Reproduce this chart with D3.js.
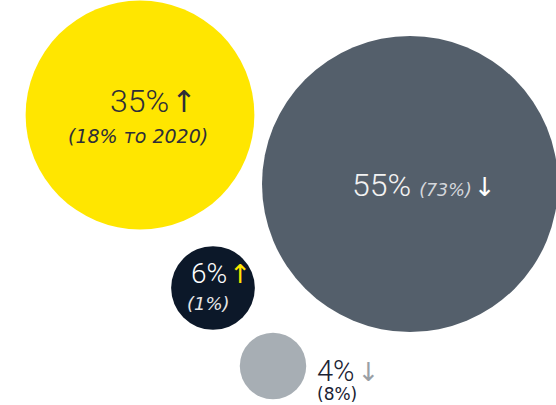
<!DOCTYPE html>
<html><head><meta charset="utf-8">
<script src="https://cdn.jsdelivr.net/npm/d3@7"></script>
<style>
html,body{margin:0;padding:0;background:#fff;}
svg{display:block;}
.num{font-family:Roboto,"Noto Sans",sans-serif;font-weight:300;}
.sub{font-family:"DejaVu Sans",sans-serif;}
.arr{font-family:"DejaVu Sans",sans-serif;}
</style></head>
<body>
<svg id="c" width="556" height="405"></svg>
<script>
// data
const categories = ["A", "B", "C", "D"];
const values = [35, 55, 6, 4];
const valueLabels = ["35%", "55%", "6%", "4%"];
const priorLabels = ["(18% то 2020)", "(73%)", "(1%)", "(8%)"];
const trend = ["up", "down", "up", "down"];

// layout (positions / styles, kept apart from the data)
const layout = [
  {cx:140, cy:115, fill:"#FFE600", main:"#2E2E38", sub:"#2E2E38", arrow:"#2E2E38", inline:false,
   l1:{x:110, y:112, size:32, asize:30, adx:2}, l2:{x:68, y:143, size:19, italic:true}},
  {cx:410, cy:184, fill:"#545F6B", main:"#F2F2F2", sub:"#D4D7DB", arrow:"#FFFFFF", inline:true,
   l1:{x:352, y:196, size:32, asize:26, adx:2}, l2:{size:17.5, italic:true, dx:8}},
  {cx:213, cy:288, fill:"#0C1829", main:"#FFFFFF", sub:"#E6E6E6", arrow:"#FFE600", inline:false,
   l1:{x:191, y:283, size:28, asize:26, adx:2}, l2:{x:187, y:310, size:18, italic:true}},
  {cx:273, cy:366, fill:"#A7AEB4", main:"#1A2233", sub:"#1A2233", arrow:"#9A9FA5", inline:false,
   l1:{x:317, y:381, size:29, asize:26, adx:3}, l2:{x:317, y:400, size:17, italic:false}}
];

const svg = d3.select("#c");
const r = d3.scalePow().exponent(0.57).domain([0, d3.max(values)]).range([0, 148]);

const nodes = categories.map((c, i) => ({c, v: values[i], main: valueLabels[i], sub: priorLabels[i], t: trend[i], L: layout[i]}));

svg.selectAll("circle").data(nodes).join("circle")
  .attr("cx", d => d.L.cx).attr("cy", d => d.L.cy)
  .attr("r", d => r(d.v)).attr("fill", d => d.L.fill);

const arrowChar = t => t === "up" ? "↑" : "↓";

nodes.forEach(d => {
  const L = d.L;
  const t1 = svg.append("text").attr("x", L.l1.x).attr("y", L.l1.y);
  t1.append("tspan").attr("class","num").attr("font-size", L.l1.size).attr("fill", L.main).text(d.main);
  if (L.inline) {
    t1.append("tspan").attr("class","sub").attr("dx", L.l2.dx).attr("font-size", L.l2.size)
      .attr("font-style", L.l2.italic ? "italic" : "normal").attr("fill", L.sub).text(d.sub);
  }
  t1.append("tspan").attr("class","arr").attr("dx", L.l1.adx).attr("font-size", L.l1.asize)
    .attr("fill", L.arrow).text(arrowChar(d.t));
  if (!L.inline) {
    svg.append("text").attr("class","sub").attr("x", L.l2.x).attr("y", L.l2.y)
      .attr("font-size", L.l2.size).attr("font-style", L.l2.italic ? "italic" : "normal")
      .attr("fill", L.sub).text(d.sub);
  }
});
</script>
</body></html>
